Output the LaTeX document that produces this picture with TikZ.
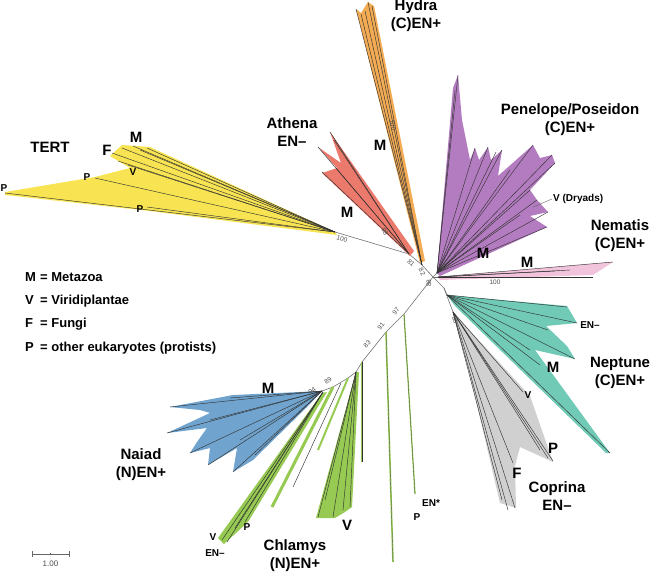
\documentclass[tikz,border=0pt]{standalone}
\usepackage{fontspec}
\setmainfont{Liberation Sans}
\definecolor{cY}{RGB}{248,228,82}
\definecolor{cR}{RGB}{236,122,108}
\definecolor{cO}{RGB}{244,172,84}
\definecolor{cP}{RGB}{180,124,192}
\definecolor{cK}{RGB}{242,196,220}
\definecolor{cT}{RGB}{112,202,182}
\definecolor{cG}{RGB}{208,208,208}
\definecolor{cB}{RGB}{112,164,206}
\definecolor{cV}{RGB}{150,202,82}
\tikzset{
 br/.style={draw=black!80, line width=0.45pt},
 bb/.style={draw=black!55, line width=0.6pt},
 gbr/.style={draw=cV, line width=#1},
 big/.style={font=\fontsize{15}{18}\selectfont\bfseries, align=center, inner sep=0pt},
 sm/.style={font=\fontsize{10}{12}\selectfont\bfseries, inner sep=0pt},
 bsv/.style={font=\fontsize{6.5}{7}\selectfont, text=black!70, inner sep=0pt},
 leg/.style={font=\fontsize{13}{15}\selectfont\bfseries, anchor=west, inner sep=0pt},
}
\begin{document}
\begin{tikzpicture}[x=1pt,y=-1pt]
\useasboundingbox (0,0) rectangle (650,574);
% key coordinates
\coordinate (C) at (433,277);
\coordinate (n82) at (422,265);
\coordinate (n81) at (409,254);
\coordinate (yb) at (335,232);
\coordinate (pb) at (437,273);
\coordinate (kb) at (438,277);
\coordinate (ntg) at (444,288);
\coordinate (tb) at (447,295);
\coordinate (gb) at (453,312);
\coordinate (n97) at (404,314);
\coordinate (n91) at (386,332);
\coordinate (n83) at (362,362);
\coordinate (nV) at (356,372);
\coordinate (nA) at (348,378);
\coordinate (n89) at (333,387);
\coordinate (bb) at (322,391);
% backbone
\draw[bb] (C) -- (n82) -- (n81) -- (yb);
\draw[bb] (C) -- (pb);
\draw[bb] (C) -- (kb);
\draw[bb] (C) -- (ntg) -- (tb);
\draw[bb] (ntg) -- (gb);
\draw[bb] (C) -- (n97) -- (n91) -- (n83) -- (nV) -- (nA) -- (n89) -- (bb);
% TERT yellow
\fill[cY] (yb) -- (150,147) -- (122,145) -- (110,156) -- (130,168) -- (95,177) -- (5,192) -- (5,195) -- (150,211) -- (337,235) -- cycle;
\foreach \p in {(5,193),(95,178),(112,153),(122,148),(133,146),(147,148),(147,207),(128,165),(118,161),(140,150)}
  \draw[br] (yb) -- \p;
% Athena red
\fill[cR] (410,256) -- (322,173) -- (337,168) -- (318,147) -- (341,163) -- (330,132) -- (414,251) -- cycle;
\foreach \p in {(330,132),(318,147),(322,172),(336,168),(334,140)}
  \draw[br] (n81) -- \p;
% Hydra orange
\fill[cO] (420,263) -- (356,9) -- (361,13) -- (368,2) -- (374,6) -- (425,261) -- cycle;
\foreach \p in {(356,9),(365,11),(368,2),(372,6),(361,14)}
  \draw[br] (n82) -- \p;
% Penelope purple
\fill[cP] (pb) -- (453,88) -- (458,75) -- (462,120) -- (470,160) -- (475,148) -- (479,160) -- (488,147) -- (491,160) -- (502,150) -- (498,176) -- (533,145) -- (540,158) -- (552,155) -- (555,163) -- (530,190) -- (537,200) -- (548,212) -- (530,216) -- (547,227) -- (440,276) -- cycle;
\foreach \p in {(458,75),(455,90),(475,148),(488,147),(502,150),(496,152),(533,145),(552,155),(555,163),(537,200),(548,212),(547,227),(530,190),(520,215),(510,170)}
  \draw[br] (pb) -- \p;
\draw[draw=black!60, line width=0.4pt] (533,207) -- (552,199);
% Nematis pink
\fill[cK] (kb) -- (613,262) -- (593,275) -- (440,280) -- cycle;
\foreach \p in {(613,262),(593,277),(570,270),(555,271)}
  \draw[br] (kb) -- \p;
% Neptune teal
\fill[cT] (tb) -- (567,306) -- (577,323) -- (546,326) -- (567,346) -- (575,359) -- (535,350) -- (610,453) -- (606,453) -- (455,306) -- cycle;
\foreach \p in {(577,323),(567,307),(548,330),(575,359),(540,365),(610,453),(530,350)}
  \draw[br] (tb) -- \p;
% Coprina gray
\fill[cG] (gb) -- (530,396) -- (553,462) -- (520,447) -- (515,466) -- (516,508) -- (500,503) -- (457,320) -- cycle;
\foreach \p in {(523,392),(553,461),(548,458),(513,463),(502,500),(508,510),(515,508),(540,450)}
  \draw[br] (gb) -- \p;
% Naiad blue
\fill[cB] (bb) -- (233,395) -- (170,407) -- (200,410) -- (210,413) -- (167,433) -- (207,428) -- (197,442) -- (190,453) -- (210,448) -- (208,465) -- (237,448) -- (233,472) -- (253,460) -- (307,407) -- cycle;
\foreach \p in {(170,407),(167,433),(190,453),(208,465),(233,472),(230,398),(210,420),(240,440),(255,455)}
  \draw[br] (bb) -- \p;
% Chlamys green
\fill[cV] (322,393) -- (218,538) -- (224,544) -- (248,522) -- (327,392) -- cycle;
\foreach \p in {(222,540),(227,542),(245,522),(235,528)}
  \draw[br] (323,392) -- \p;
\draw[gbr=3pt] (n89) -- (272,507);
\draw[br] (341,383) -- (293,487);
\draw[gbr=2pt] (nA) -- (318,450);
\fill[cV] (nV) -- (316,518) -- (335,518) -- (345,512) -- (352,507) -- (359,372) -- cycle;
\foreach \p in {(318,517),(333,517),(343,510),(350,507),(325,500)}
  \draw[br] (nV) -- \p;
\draw[gbr=2.5pt] (n83) -- (362,462);
\draw[br] (n83) -- (362,462);
\draw[gbr=1.6pt] (n91) -- (393,562);
\draw[draw=black!70, line width=0.3pt] (n91) -- (393,562);
\draw[gbr=1.3pt] (n97) -- (415,494);
\draw[draw=black!70, line width=0.3pt] (n97) -- (415,494);
% big labels
\node[big] (tert) at (50,147) {TERT};
\node[big] (athena) at (292,132) {Athena\\EN–};
\node[big] (hydra) at (416,16) {Hydra\\(C)EN+};
\node[big] (pene) at (570,120) {Penelope/Poseidon\\(C)EN+};
\node[big] (nema) at (620,236) {Nematis\\(C)EN+};
\node[big] (nept) at (620,373) {Neptune\\(C)EN+};
\node[big] (copr) at (557,496) {Coprina\\EN–};
\node[big] (chla) at (295,556) {Chlamys\\(N)EN+};
\node[big] (naiad) at (141,465) {Naiad\\(N)EN+};
% big letters
\node[big] (mY) at (136,137) {M};
\node[big] (fY) at (107,150) {F};
\node[big] (mO) at (380,145) {M};
\node[big] (mR) at (347,212) {M};
\node[big] (mP) at (483,253) {M};
\node[big] (mK) at (527,262) {M};
\node[big] (mT) at (553,367) {M};
\node[big] (mB) at (268,388) {M};
\node[big] (vC) at (347,525) {V};
\node[big] (pG) at (553,448) {P};
\node[big] (fG) at (517,473) {F};
% small letters
\node[sm] (pY1) at (87,177) {P};
\node[sm] (pY2) at (4,188) {P};
\node[sm] (pY3) at (140,209) {P};
\node[sm] (vY) at (133,172) {V};
\node[sm, anchor=west] (dry) at (553,199) {V (Dryads)};
\node[sm] (enT) at (590,325) {EN–};
\node[sm] (vG) at (528,395) {V};
\node[sm] (ens) at (431,503) {EN*};
\node[sm] (pS) at (417,517) {P};
\node[sm] (vc2) at (213,537) {V};
\node[sm] (enc) at (215,553) {EN–};
\node[sm] (pc) at (247,527) {P};
% bootstrap values
\node[bsv, rotate=-18] (b1) at (342,239) {100};
\node[bsv, rotate=-65] (b2) at (385,232) {98};
\node[bsv, rotate=-78] (b3) at (393,125) {100};
\node[bsv, rotate=-40] (b4) at (411,263) {81};
\node[bsv, rotate=-60] (b5) at (422,272) {82};
\node[bsv, rotate=90] (b6) at (429,283) {88};
\node[bsv, rotate=55] (b7) at (444,267) {91};
\node[bsv] (b8) at (495,282) {100};
\node[bsv, rotate=-70] (b9) at (455,320) {96};
\node[bsv, rotate=50] (b10) at (396,311) {97};
\node[bsv, rotate=50] (b11) at (381,326) {91};
\node[bsv, rotate=45] (b12) at (367,344) {83};
\node[bsv, rotate=35] (b13) at (328,381) {89};
\node[bsv, rotate=35] (b14) at (312,391) {94};
% legend
\node[leg] (lm) at (25,277) {\makebox[15pt][l]{M}= Metazoa};
\node[leg] (lv) at (25,301) {\makebox[15pt][l]{V}= Viridiplantae};
\node[leg] (lf) at (25,324) {\makebox[15pt][l]{F}= Fungi};
\node[leg] (lp) at (25,348) {\makebox[15pt][l]{P}= other eukaryotes (protists)};
% scale bar
\coordinate (s1) at (32,554);
\coordinate (s2) at (69,554);
\draw[draw=black!60, line width=0.6pt] (s1) -- (s2);
\draw[draw=black!60, line width=0.6pt] (32,551) -- (32,557) (69,551) -- (69,557) (50.5,553) -- (50.5,555);
\node[font=\fontsize{8}{9}\selectfont, text=black!70] (sl) at (50.5,564) {1.00};
\end{tikzpicture}
\end{document}
